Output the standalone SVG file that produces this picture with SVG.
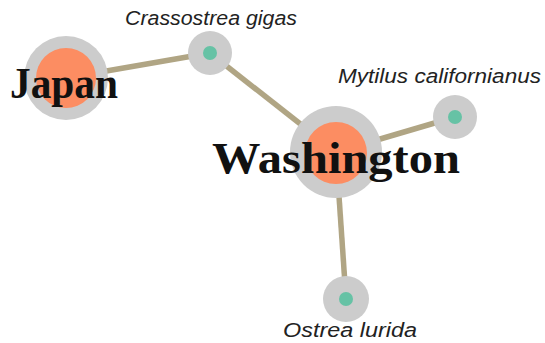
<svg xmlns="http://www.w3.org/2000/svg" width="545" height="343" viewBox="0 0 545 343">
<style>
.edge{stroke:#b0a584;stroke-width:5.5;stroke-linecap:butt}
.halo{fill:#cccccc}
.place{fill:#fc8d62}
.species{fill:#66c2a5}
.big{font-family:"Liberation Serif","Times New Roman",serif;font-weight:bold;font-size:44px;fill:#111}
.small{font-family:"Liberation Sans",Arial,sans-serif;font-style:italic;font-size:20px;fill:#222}
</style>
<rect width="545" height="343" fill="#ffffff"/>
<g id="connectors">
<line class="edge" x1="66" y1="78" x2="210" y2="53"/>
<line class="edge" x1="210" y1="53" x2="336" y2="152"/>
<line class="edge" x1="336" y1="152" x2="455" y2="117"/>
<line class="edge" x1="336" y1="152" x2="346" y2="299"/>
</g>
<g id="crassostrea">
<circle class="halo" cx="210" cy="53" r="22"/>
<circle class="species" cx="210" cy="53" r="7"/>
<text class="small" x="125" y="25" textLength="172" lengthAdjust="spacingAndGlyphs">Crassostrea gigas</text>
</g>
<g id="mytilus">
<circle class="halo" cx="455" cy="117" r="22"/>
<circle class="species" cx="455" cy="117" r="7"/>
<text class="small" x="338" y="83" textLength="203" lengthAdjust="spacingAndGlyphs">Mytilus californianus</text>
</g>
<g id="ostrea">
<circle class="halo" cx="346" cy="299" r="23"/>
<circle class="species" cx="346" cy="299" r="7"/>
<text class="small" x="283" y="337" textLength="134" lengthAdjust="spacingAndGlyphs">Ostrea lurida</text>
</g>
<g id="japan">
<circle class="halo" cx="66" cy="78" r="42"/>
<circle class="place" cx="66" cy="78" r="30"/>
<text class="big" x="10" y="98" textLength="108" lengthAdjust="spacingAndGlyphs">Japan</text>
</g>
<g id="washington">
<circle class="halo" cx="336" cy="152" r="46"/>
<circle class="place" cx="336" cy="153" r="31"/>
<text class="big" x="212" y="173" textLength="248" lengthAdjust="spacingAndGlyphs">Washington</text>
</g>
</svg>
